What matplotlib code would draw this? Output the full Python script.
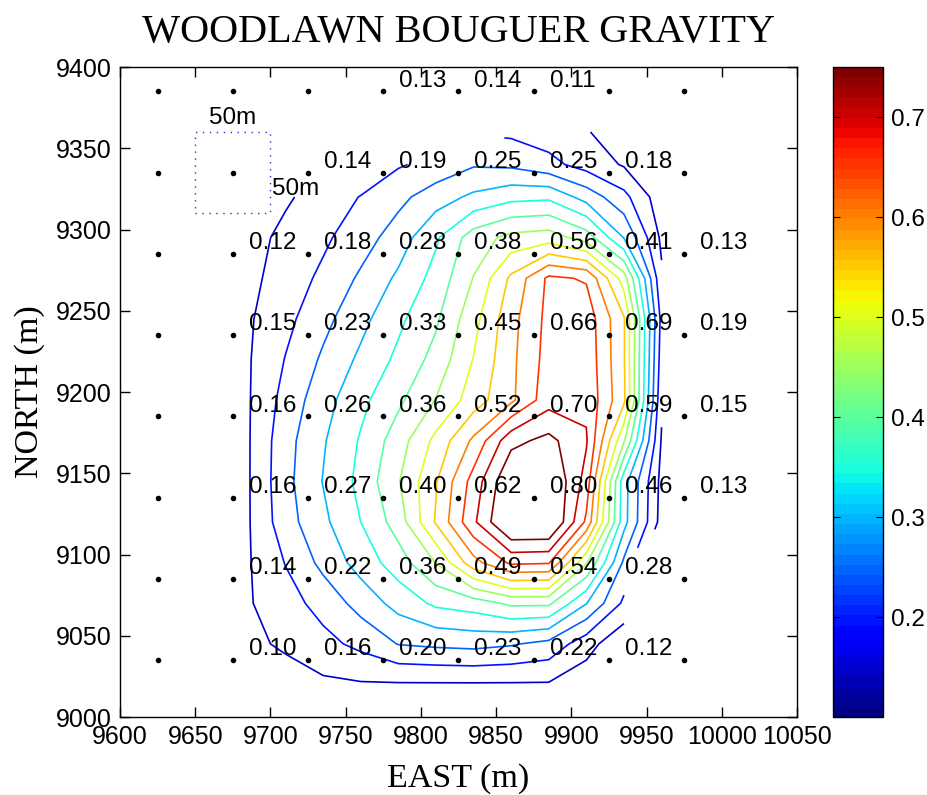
import numpy as np
import matplotlib
matplotlib.use("Agg")
import matplotlib.pyplot as plt
from matplotlib.colors import Normalize
from matplotlib.cm import ScalarMappable

# station grid (nominal positions of the survey points)
stations_east = [9625, 9675, 9725, 9775, 9825, 9875, 9925, 9975]
stations_north = [9035, 9085, 9135, 9185, 9235, 9285, 9335, 9385]
nan = np.nan
# Bouguer anomaly at each station, rows from south to north (nan = no reading)
station_gravity = [
    [nan, 0.10, 0.16, 0.20, 0.23, 0.22, 0.12, nan],
    [nan, 0.14, 0.22, 0.36, 0.49, 0.54, 0.28, nan],
    [nan, 0.16, 0.27, 0.40, 0.62, 0.80, 0.46, 0.13],
    [nan, 0.16, 0.26, 0.36, 0.52, 0.70, 0.59, 0.15],
    [nan, 0.15, 0.23, 0.33, 0.45, 0.66, 0.69, 0.19],
    [nan, 0.12, 0.18, 0.28, 0.38, 0.56, 0.41, 0.13],
    [nan, nan, 0.14, 0.19, 0.25, 0.25, 0.18, nan],
    [nan, nan, nan, 0.13, 0.14, 0.11, nan, nan],
]

# gridded field behind the contours
field_east = [9685, 9710, 9735, 9760, 9785, 9810, 9835, 9860, 9885, 9910, 9935, 9960]
field_north = [9020, 9045, 9070, 9095, 9120, 9145, 9170, 9195,
               9220, 9245, 9270, 9295, 9320, 9340, 9360]
field_gravity = [
    [0.105, 0.12, 0.14, 0.145, 0.145, 0.145, 0.145, 0.145, 0.145, 0.12, 0.105, nan],
    [0.135, 0.16, 0.185, 0.213, 0.252, 0.26, 0.265, 0.255, 0.235, 0.17, 0.11, nan],
    [0.145, 0.18, 0.218, 0.269, 0.318, 0.36, 0.375, 0.41, 0.41, 0.302, 0.19, nan],
    [0.145, 0.202, 0.264, 0.32, 0.376, 0.452, 0.582, 0.66, 0.655, 0.455, 0.24, nan],
    [0.145, 0.229, 0.289, 0.35, 0.423, 0.555, 0.69, 0.82, 0.82, 0.64, 0.317, 0.13],
    [0.145, 0.235, 0.302, 0.364, 0.446, 0.546, 0.67, 0.80, 0.81, 0.68, 0.32, 0.135],
    [0.145, 0.232, 0.295, 0.355, 0.426, 0.514, 0.61, 0.735, 0.765, 0.705, 0.455, 0.145],
    [0.145, 0.218, 0.28, 0.337, 0.39, 0.452, 0.525, 0.59, 0.68, 0.69, 0.56, 0.16],
    [0.145, 0.202, 0.258, 0.31, 0.361, 0.417, 0.502, 0.588, 0.67, 0.685, 0.555, 0.175],
    [0.143, 0.186, 0.235, 0.285, 0.339, 0.392, 0.483, 0.583, 0.665, 0.68, 0.555, 0.185],
    [0.135, 0.174, 0.21, 0.258, 0.309, 0.367, 0.452, 0.56, 0.66, 0.645, 0.475, 0.158],
    [0.13, 0.163, 0.191, 0.227, 0.274, 0.343, 0.425, 0.465, 0.475, 0.427, 0.298, 0.14],
    [0.12, 0.143, 0.172, 0.202, 0.236, 0.277, 0.31, 0.335, 0.34, 0.28, 0.215, 0.12],
    [nan, nan, nan, 0.16, 0.195, 0.215, 0.245, 0.24, 0.215, 0.18, 0.145, 0.105],
    [nan, nan, nan, nan, nan, nan, nan, 0.19, 0.175, 0.155, 0.11, nan],
]
contour_levels = [0.15, 0.20, 0.25, 0.30, 0.35, 0.40, 0.45, 0.50,
                  0.55, 0.60, 0.65, 0.70, 0.75]
colorbar_ticks = [0.2, 0.3, 0.4, 0.5, 0.6, 0.7]

serif = "Liberation Serif"
sans = "Liberation Sans"

cmap = plt.get_cmap("jet", 64)
norm = Normalize(vmin=0.10, vmax=0.75)

fig = plt.figure(figsize=(9.28, 7.95), dpi=100)
ax = fig.add_axes([0.1293, 0.0981, 0.7295, 0.8176])
cax = fig.add_axes([0.8976, 0.0981, 0.0539, 0.8176])

# contours
field = np.ma.masked_invalid(np.array(field_gravity))
ax.contour(field_east, field_north, field, levels=contour_levels,
           cmap=cmap, norm=norm, linewidths=1.2)

# station dots and values
E, N = np.meshgrid(stations_east, stations_north)
ax.plot(E.ravel(), N.ravel(), "o", color="black", ms=3.0, zorder=3)
vals = np.array(station_gravity)
for i, yn in enumerate(stations_north):
    for j, xe in enumerate(stations_east):
        v = vals[i, j]
        if np.isnan(v):
            continue
        ax.annotate(f"{v:.2f}", (xe, yn), xytext=(11.5, 3.5), textcoords="offset points",
                    ha="left", va="baseline", fontsize=17.5, family=sans, zorder=4)

# 50 m scale box around one station
ax.plot([9650, 9700, 9700, 9650, 9650], [9310, 9310, 9360, 9360, 9310],
        ls=(0, (1, 4)), color="#3030c0", lw=1.0)
ax.text(9675, 9365, "50m", ha="center", va="baseline", fontsize=17.5, family=sans)
ax.text(9701, 9321, "50m", ha="left", va="baseline", fontsize=17.5, family=sans)

ax.set_xlim(9600, 10050)
ax.set_ylim(9000, 9400)
ax.set_xticks(range(9600, 10051, 50))
ax.set_yticks(range(9000, 9401, 50))
ax.tick_params(direction="in", top=True, right=True, length=7, width=1,
               labelsize=18, pad=6)
for lab in ax.get_xticklabels() + ax.get_yticklabels():
    lab.set_family(sans)
for s in ax.spines.values():
    s.set_linewidth(1.0)

ax.set_title("WOODLAWN BOUGUER GRAVITY", fontsize=29, family=serif, pad=18)
ax.set_xlabel("EAST (m)", fontsize=24.5, family=serif, labelpad=10)
ax.set_ylabel("NORTH (m)", fontsize=24.5, family=serif, labelpad=8)

# colour bar
cb = fig.colorbar(ScalarMappable(norm=norm, cmap=cmap), cax=cax, ticks=colorbar_ticks)
cb.ax.tick_params(direction="in", left=True, right=True, length=5, labelsize=17.5, pad=6)
for lab in cb.ax.get_yticklabels():
    lab.set_family(sans)
cb.outline.set_linewidth(1.0)

fig.savefig("out.png", dpi=100, facecolor="white")
